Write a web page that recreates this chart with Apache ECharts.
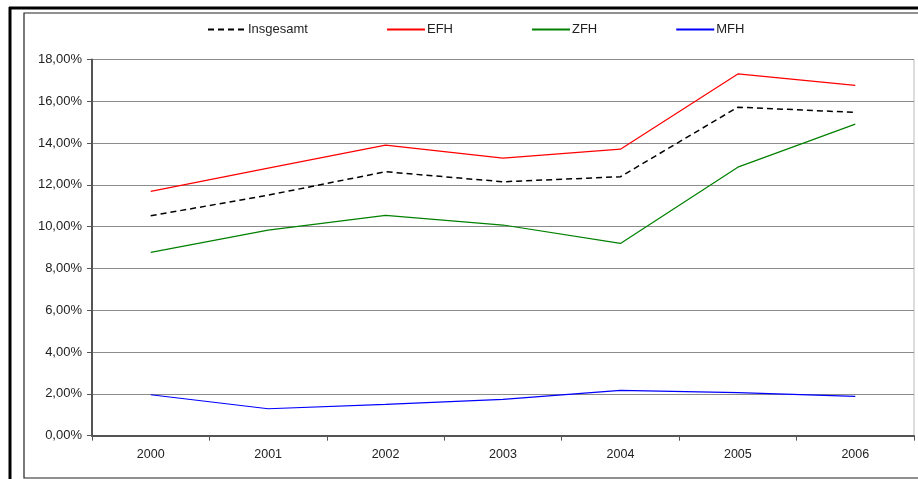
<!DOCTYPE html>
<html>
<head>
<meta charset="utf-8">
<script src="https://cdn.jsdelivr.net/npm/echarts@6/dist/echarts.min.js"></script>
<style>
html,body{margin:0;padding:0;background:#fff;}
#c{width:918px;height:479px;}
</style>
</head>
<body>
<div id="c"></div>
<script>
var years = ['2000','2001','2002','2003','2004','2005','2006'];
var insgesamt = [10.52, 11.51, 12.63, 12.15, 12.39, 15.72, 15.47];
var efh = [11.69, 12.80, 13.90, 13.28, 13.71, 17.31, 16.76];
var zfh = [8.77, 9.84, 10.54, 10.08, 9.20, 12.85, 14.91];
var mfh = [1.96, 1.29, 1.50, 1.74, 2.17, 2.06, 1.88];
var seriesNames = ['Insgesamt', 'EFH', 'ZFH', 'MFH'];

var chart = echarts.init(document.getElementById('c'), null, {renderer: 'canvas'});
var font = 'Liberation Sans, Arial, sans-serif';
function mk(name, data, color, type, width) {
  return {
    name: name, type: 'line', data: data, symbol: 'none', showSymbol: false,
    silent: true, animation: false,
    lineStyle: {color: color, width: width, type: type},
    itemStyle: {color: color}
  };
}
chart.setOption({
  animation: false,
  backgroundColor: '#fff',
  textStyle: {fontFamily: font},
  legend: {
    left: 202, top: 18, itemWidth: 38, itemHeight: 14, itemGap: 78,
    itemStyle: {opacity: 0},
    textStyle: {fontFamily: font, fontSize: 13, color: '#222', padding: [0,0,0,-3]},
    data: seriesNames
  },
  grid: {left: 92, right: 4, top: 59.5, bottom: 43.3, show: true, borderColor: '#bbb', borderWidth: 1},
  xAxis: {
    type: 'category', data: years, boundaryGap: true,
    axisLine: {lineStyle: {color: '#555', width: 2}},
    axisTick: {show: true, length: 5, lineStyle: {color: '#555'}},
    axisLabel: {fontFamily: font, fontSize: 12.5, color: '#222', margin: 12}
  },
  yAxis: {
    type: 'value', min: 0, max: 18, interval: 2,
    axisLine: {show: true, lineStyle: {color: '#555', width: 2}},
    axisTick: {show: true, length: 5, lineStyle: {color: '#555'}},
    splitLine: {lineStyle: {color: '#8c8c8c', width: 1}},
    axisLabel: {fontFamily: font, fontSize: 13, color: '#222', margin: 10,
      formatter: function (v) { return v.toFixed(2).replace('.', ',') + '%'; }}
  },
  series: [
    mk('Insgesamt', insgesamt, '#000', [6, 4], 1.5),
    mk('EFH', efh, '#ff0000', 'solid', 1.2),
    mk('ZFH', zfh, '#008000', 'solid', 1.2),
    mk('MFH', mfh, '#0000ff', 'solid', 1.2)
  ],
  graphic: [
    {type: 'line', silent: true, shape: {x1: 9, y1: 8, x2: 918, y2: 8}, style: {stroke: '#000', lineWidth: 3}},
    {type: 'line', silent: true, shape: {x1: 10, y1: 7, x2: 10, y2: 479}, style: {stroke: '#000', lineWidth: 3}},
    {type: 'rect', silent: true, shape: {x: 24, y: 13, width: 920, height: 465}, style: {fill: 'none', stroke: '#222', lineWidth: 1.2}}
  ]
});
</script>
</body>
</html>
